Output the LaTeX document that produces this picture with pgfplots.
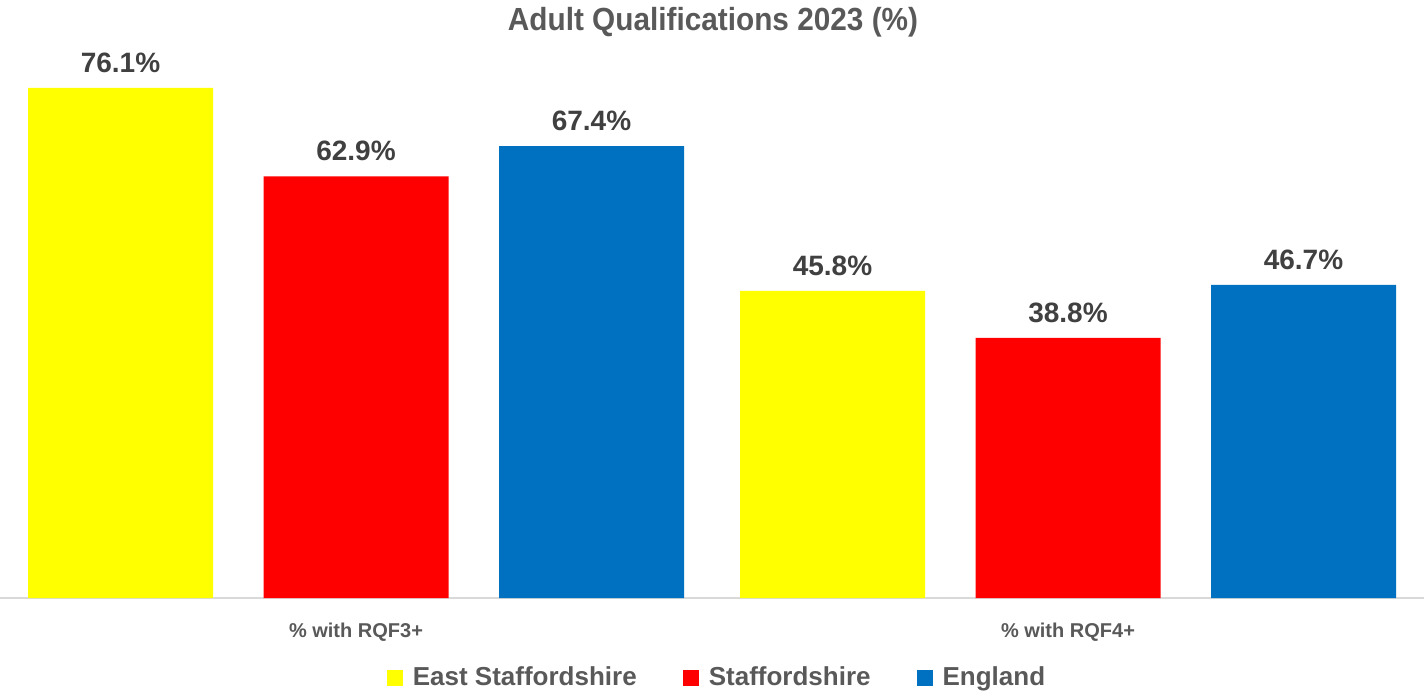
\documentclass[border=0pt]{standalone}
\usepackage{pgfplots}
\pgfplotsset{compat=1.18}
\usepackage{fontspec}
\setmainfont{Liberation Sans}
\newfontfamily\narrowfont[FakeStretch=0.93]{Liberation Sans Bold}
\definecolor{txtgray}{HTML}{595959}
\definecolor{lblgray}{HTML}{404040}
\definecolor{esyellow}{HTML}{FFFF00}
\definecolor{stred}{HTML}{FF0000}
\definecolor{engblue}{HTML}{0070C0}
\definecolor{axisgray}{HTML}{D9D9D9}

\begin{document}
\begin{tikzpicture}
  \useasboundingbox (0,0) rectangle (712pt,348pt);
  \node[font=\narrowfont\fontsize{16}{18}\selectfont, text=txtgray]
    at (356.5pt,337pt) {Adult Qualifications 2023 (\%)};
  \begin{axis}[
    at={(0pt,49pt)}, anchor=south west,
    scale only axis,
    width=712pt, height=268.2pt,
    ybar=25.25pt, bar width=92.5pt,
    xmin=-0.5, xmax=1.5,
    ymin=0, ymax=80,
    clip=false,
    axis y line=none,
    axis x line=bottom,
    x axis line style={-, draw=axisgray, line width=0.6pt},
    xtick={0,1},
    xticklabels={\% with RQF3+, \% with RQF4+},
    major tick length=0pt,
    ytick=\empty,
    xticklabel style={font=\bfseries\fontsize{10}{12}\selectfont, text=txtgray, yshift=-9pt},
    /pgf/number format/assume math mode=true,
    nodes near coords={\pgfmathprintnumber[fixed,fixed zerofill,precision=1]{\pgfplotspointmeta}\%},
    every node near coord/.append style={font=\bfseries\fontsize{14}{16}\selectfont, text=lblgray, yshift=4pt},
    legend columns=3,
    legend style={at={(0.5,0)}, anchor=center, xshift=3pt, yshift=-40pt, draw=none, fill=none,
      font=\bfseries\fontsize{13}{15}\selectfont, text=txtgray,
      /tikz/every odd column/.append style={column sep=3pt},
      /tikz/every even column/.append style={column sep=21pt}},
    legend image code/.code={\fill[#1] (0pt,-4pt) rectangle (8pt,4pt);},
  ]
  \addplot[fill=esyellow, draw=none] coordinates {(0,76.1) (1,45.8)};
  \addplot[fill=stred, draw=none] coordinates {(0,62.9) (1,38.8)};
  \addplot[fill=engblue, draw=none] coordinates {(0,67.4) (1,46.7)};
  \legend{East Staffordshire, Staffordshire, England}
  \end{axis}
\end{tikzpicture}
\end{document}
